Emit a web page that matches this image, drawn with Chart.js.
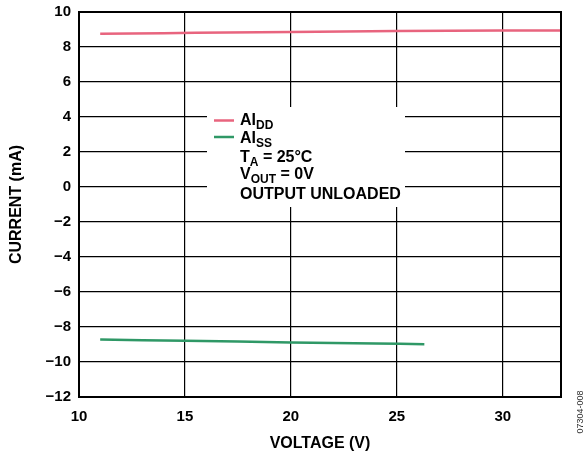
<!DOCTYPE html>
<html>
<head>
<meta charset="utf-8">
<script src="https://cdn.jsdelivr.net/npm/chart.js@4.4.0/dist/chart.umd.min.js"></script>
<style>
  html, body { margin: 0; padding: 0; background: #fff; }
  #wrap { position: relative; width: 588px; height: 453px; }
</style>
</head>
<body>
<div id="wrap"><canvas id="chart" width="588" height="453"></canvas></div>
<script>
// Данные графика
const iddVoltage = [11, 14, 17, 20, 25, 30, 32.75];
const iddCurrent = [8.76, 8.79, 8.83, 8.86, 8.91, 8.94, 8.95];
const issVoltage = [11, 15, 20, 24, 26.3];
const issCurrent = [-8.72, -8.79, -8.88, -8.94, -8.98];

const xTicks = [10, 15, 20, 25, 30];
const yTicks = [-12, -10, -8, -6, -4, -2, 0, 2, 4, 6, 8, 10];

const PINK = '#e8647e';
const GREEN = '#2f9866';
const FONT = 'Liberation Sans, Arial, sans-serif';

const toPoints = (xs, ys) => xs.map((x, i) => ({ x: x, y: ys[i] }));

// Рамка области графика
const framePlugin = {
  id: 'frame',
  afterDraw(chart) {
    const { ctx, chartArea: a } = chart;
    ctx.save();
    ctx.strokeStyle = '#000';
    ctx.lineWidth = 2;
    ctx.strokeRect(a.left, a.top, a.right - a.left, a.bottom - a.top);
    ctx.restore();
  }
};

// Текст с нижним индексом
function drawSub(ctx, x, y, main, sub, rest) {
  ctx.font = 'bold 16px ' + FONT;
  ctx.fillText(main, x, y);
  let w = ctx.measureText(main).width;
  if (sub) {
    ctx.font = 'bold 12px ' + FONT;
    ctx.fillText(sub, x + w, y + 4);
    w += ctx.measureText(sub).width;
  }
  if (rest) {
    ctx.font = 'bold 16px ' + FONT;
    ctx.fillText(rest, x + w, y);
  }
}

// Легенда с условиями
const legendPlugin = {
  id: 'noteLegend',
  afterDatasetsDraw(chart) {
    const { ctx } = chart;
    ctx.save();
    ctx.fillStyle = '#fff';
    ctx.fillRect(207, 107, 198, 100);

    ctx.lineWidth = 2.5;
    ctx.strokeStyle = PINK;
    ctx.beginPath(); ctx.moveTo(214, 120.5); ctx.lineTo(234, 120.5); ctx.stroke();
    ctx.strokeStyle = GREEN;
    ctx.beginPath(); ctx.moveTo(214, 137); ctx.lineTo(234, 137); ctx.stroke();

    ctx.fillStyle = '#000';
    ctx.textBaseline = 'alphabetic';
    ctx.textAlign = 'left';
    drawSub(ctx, 240, 125, 'AI', 'DD');
    drawSub(ctx, 240, 143, 'AI', 'SS');
    drawSub(ctx, 240, 162, 'T', 'A', ' = 25°C');
    drawSub(ctx, 240, 179, 'V', 'OUT', ' = 0V');
    drawSub(ctx, 240, 199, 'OUTPUT UNLOADED');

    // номер рисунка
    ctx.font = '9px ' + FONT;
    ctx.fillStyle = '#333';
    ctx.translate(581, 412);
    ctx.rotate(-Math.PI / 2);
    ctx.textAlign = 'center';
    ctx.textBaseline = 'middle';
    ctx.fillText('07304-008', 0, 0);
    ctx.restore();
  }
};

new Chart(document.getElementById('chart'), {
  type: 'scatter',
  data: {
    datasets: [
      {
        label: 'AIDD',
        data: toPoints(iddVoltage, iddCurrent),
        showLine: true,
        borderColor: PINK,
        borderWidth: 2.5,
        pointRadius: 0,
        tension: 0.3
      },
      {
        label: 'AISS',
        data: toPoints(issVoltage, issCurrent),
        showLine: true,
        borderColor: GREEN,
        borderWidth: 2.5,
        pointRadius: 0,
        tension: 0.3
      }
    ]
  },
  options: {
    responsive: false,
    animation: false,
    layout: { padding: { top: 12, right: 27, left: 0, bottom: 0 } },
    plugins: {
      legend: { display: false },
      tooltip: { enabled: false }
    },
    scales: {
      x: {
        type: 'linear',
        min: 10,
        max: 32.75,
        afterFit: (s) => { s.height = 56; },
        afterBuildTicks: (s) => { s.ticks = xTicks.map(v => ({ value: v })); },
        grid: { color: '#000', lineWidth: 1.2, drawTicks: false },
        border: { display: false },
        ticks: {
          padding: 11,
          color: '#000',
          font: { family: FONT, size: 15, weight: 'bold' }
        },
        title: {
          display: true,
          text: 'VOLTAGE (V)',
          color: '#000',
          font: { family: FONT, size: 16, weight: 'bold' },
          padding: { top: 2, bottom: 0 }
        }
      },
      y: {
        type: 'linear',
        min: -12,
        max: 10,
        afterFit: (s) => { s.width = 79; s.paddingTop = 0; s.paddingBottom = 0; },
        afterBuildTicks: (s) => { s.ticks = yTicks.map(v => ({ value: v })); },
        grid: { color: '#000', lineWidth: 1.2, drawTicks: false },
        border: { display: false },
        ticks: {
          padding: 8,
          color: '#000',
          font: { family: FONT, size: 15, weight: 'bold' },
          callback: (v) => String(v).replace('-', '\u2212')
        },
        title: {
          display: true,
          text: 'CURRENT (mA)',
          color: '#000',
          font: { family: FONT, size: 16, weight: 'bold' },
          padding: { top: 7, bottom: 4 }
        }
      }
    }
  },
  plugins: [framePlugin, legendPlugin]
});
</script>
</body>
</html>
